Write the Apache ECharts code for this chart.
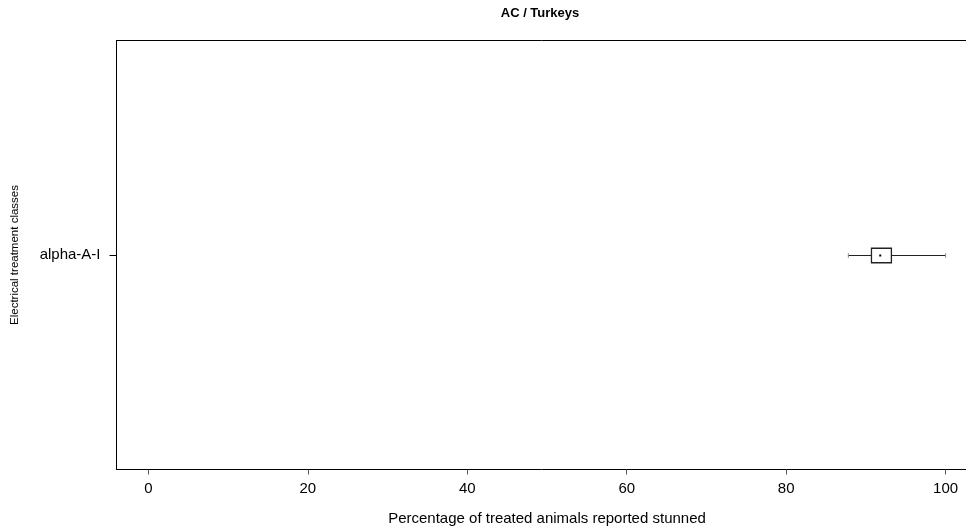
<!DOCTYPE html>
<html>
<head>
<meta charset="utf-8">
<script src="https://cdn.jsdelivr.net/npm/echarts@6/dist/echarts.min.js"></script>
<style>html,body{margin:0;padding:0;background:#fff;overflow:hidden}#c{width:966px;height:527px}</style>
</head>
<body>
<div id="c"></div>
<script>
const categories = ['alpha-A-I'];
const whiskerLow = [87.8];
const q1 = [90.7];
const median = [91.8];
const q3 = [93.2];
const whiskerHigh = [100];
const xTicks = [0, 20, 40, 60, 80, 100];

const data = categories.map((c, i) => [i, whiskerLow[i], q1[i], median[i], q3[i], whiskerHigh[i]]);
const font = 'Liberation Sans, Arial, Helvetica, sans-serif';
const chart = echarts.init(document.getElementById('c'), null, {renderer: 'canvas'});
chart.setOption({
  animation: false,
  backgroundColor: '#fff',
  title: {
    text: 'AC / Turkeys', left: 535, top: 2, textAlign: 'center',
    textStyle: {fontFamily: font, fontWeight: 'bold', fontSize: 13, color: '#000'}
  },
  grid: {left: 116.5, top: 40.5, width: 861, height: 429, show: false,
         outerBoundsMode: 'none', containLabel: false},
  xAxis: [{
    type: 'value', min: -4, max: 104, position: 'bottom',
    splitLine: {show: false},
    axisLine: {show: true, onZero: false, lineStyle: {color: '#000'}},
    axisTick: {show: true, length: 5, customValues: xTicks, lineStyle: {color: '#555'}},
    axisLabel: {customValues: xTicks, margin: 12, fontFamily: font, fontSize: 15, color: '#000'},
    name: 'Percentage of treated animals reported stunned', nameLocation: 'middle', nameGap: 42,
    nameTextStyle: {fontFamily: font, fontSize: 15, color: '#000'}
  }, {
    type: 'value', min: -4, max: 104, position: 'top',
    splitLine: {show: false},
    axisLine: {show: true, onZero: false, lineStyle: {color: '#000'}},
    axisTick: {show: false}, axisLabel: {show: false}
  }],
  yAxis: {
    type: 'category', data: categories,
    axisLine: {show: true, onZero: false, lineStyle: {color: '#000'}},
    axisTick: {show: true, alignWithLabel: true, length: 7, lineStyle: {color: '#000'}},
    axisLabel: {margin: 16, fontFamily: font, fontSize: 15, color: '#000'},
    splitLine: {show: false},
    name: 'Electrical treatment classes', nameLocation: 'middle', nameGap: 96, nameRotate: 90,
    nameTextStyle: {fontFamily: font, fontSize: 11.5, color: '#000'}
  },
  series: [{
    type: 'custom',
    data: data,
    clip: false,
    xAxisIndex: 0,
    encode: {x: [1, 2, 3, 4, 5], y: 0},
    renderItem: function (params, api) {
      const cat = api.value(0);
      const pMin = api.coord([api.value(1), cat]);
      const pQ1 = api.coord([api.value(2), cat]);
      const pMed = api.coord([api.value(3), cat]);
      const pQ3 = api.coord([api.value(4), cat]);
      const pMax = api.coord([api.value(5), cat]);
      const y = Math.round(pMed[1]) + 0.5;
      const h = 14.5, cap = 4.5;
      const ls = {stroke: '#222', lineWidth: 1};
      return {
        type: 'group',
        children: [
          {type: 'line', shape: {x1: pMin[0], y1: y, x2: pQ1[0], y2: y}, style: ls},
          {type: 'line', shape: {x1: pQ3[0], y1: y, x2: pMax[0], y2: y}, style: ls},
          {type: 'line', shape: {x1: pMin[0], y1: y - cap / 2, x2: pMin[0], y2: y + cap / 2}, style: {stroke: '#888', lineWidth: 1}},
          {type: 'line', shape: {x1: pMax[0], y1: y - cap / 2, x2: pMax[0], y2: y + cap / 2}, style: {stroke: '#888', lineWidth: 1}},
          {type: 'rect', shape: {x: pQ1[0], y: y - h / 2, width: pQ3[0] - pQ1[0], height: h}, style: {fill: 'none', stroke: '#222', lineWidth: 1.3}},
          {type: 'rect', shape: {x: pMed[0] - 1, y: y - 1, width: 2, height: 2}, style: {fill: '#000'}}
        ]
      };
    }
  }]
});
</script>
</body>
</html>
